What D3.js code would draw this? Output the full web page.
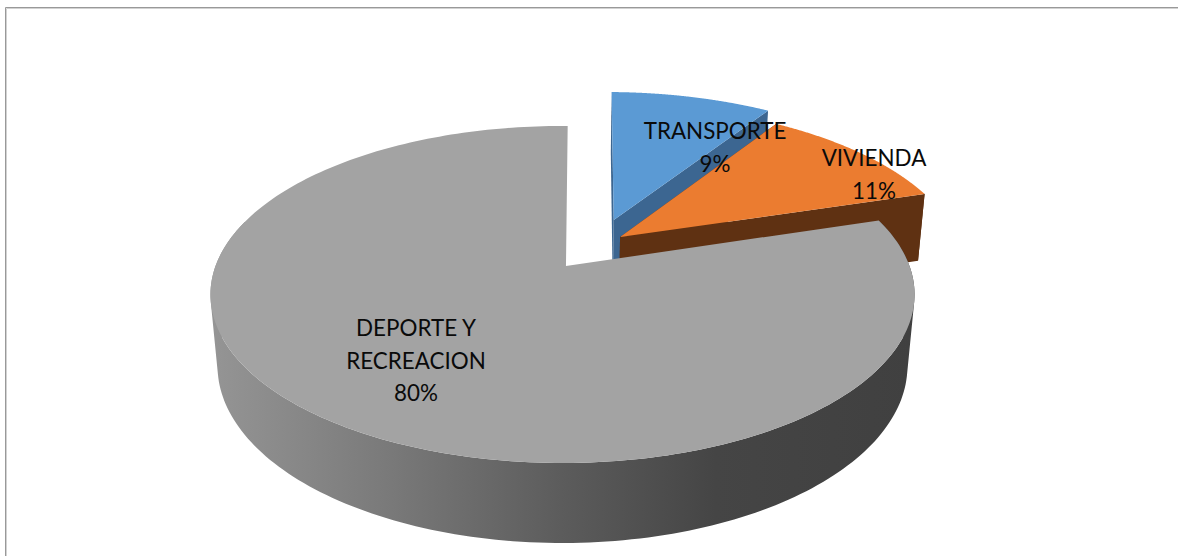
<!DOCTYPE html>
<html>
<head>
<meta charset="utf-8">
<style>
html,body{margin:0;padding:0;background:#fff;overflow:hidden}
svg{display:block}
text{font-family:Lato,"Open Sans",sans-serif;font-size:22.4px;fill:#0a0a0a;text-anchor:middle}
</style>
<script src="https://cdnjs.cloudflare.com/ajax/libs/d3/7.8.5/d3.min.js"></script>
</head>
<body>
<script>
// Data
const categories = ["TRANSPORTE", "VIVIENDA", "DEPORTE Y RECREACION"];
const values = [9, 11, 80];
const labelLines = [["TRANSPORTE"], ["VIVIENDA"], ["DEPORTE Y", "RECREACION"]];

// Styles
const topColors = ["#5b9ad4", "#eb7c30", "#a3a3a3"];
const faceColors = ["#3c6691", "#5f3112", "#6a6a6a"];

// Layout
const W = 1179, H = 556;
const apex = {x: 562.5, y: 266};
const radiusX = 347, radiusY = 163.7, tilt = 0.169, depth = 72, depthShrink = 0.02;
const rotation = 1 * Math.PI / 180;
const explode = [{u: 0.155, v: -0.2954}, {u: 0.171, v: -0.1826}, {u: 0, v: 0}];
const tipShift = [0, 0, 0.01];
const labelPos = [{x: 715, y: 131}, {x: 874, y: 158}, {x: 416, y: 328}];
const lineGap = 32.5;

const svg = d3.select("body").append("svg").attr("width", W).attr("height", H);

// Gradient for the cylinder wall
const grad = svg.append("defs").append("linearGradient")
  .attr("id", "wall").attr("gradientUnits", "userSpaceOnUse")
  .attr("x1", 210).attr("x2", 912).attr("y1", 0).attr("y2", 0);
[[0, "#959595"], [0.25, "#7a7a7a"], [0.5, "#5c5c5c"], [0.72, "#454545"], [1, "#404040"]]
  .forEach(([o, c]) => grad.append("stop").attr("offset", o).attr("stop-color", c));

// Frame
svg.append("rect").attr("width", W).attr("height", H).attr("fill", "#fff");
svg.append("path").attr("d", `M6.5,${H}V8.5H${W - 1}`).attr("fill", "none").attr("stroke", "#d2d2d2");
svg.append("path").attr("d", `M5.5,${H}V7.5H${W - 1}`).attr("fill", "none").attr("stroke", "#999");

// Disc coordinates -> screen
function project(u, v, z) {
  const w = 1 - tilt * v + depthShrink * z;
  return [apex.x + radiusX * u / w, apex.y + (radiusY * v + depth * z) / w];
}
const line = d3.line();

const arcs = d3.pie().sort(null).startAngle(rotation).endAngle(rotation + 2 * Math.PI)(values);

arcs.forEach((a, i) => {
  const e = explode[i];
  const pt = (ang, z, r = 1) => project(e.u + r * Math.sin(ang), e.v - r * Math.cos(ang), z);
  const tip = z => project(e.u + tipShift[i], e.v, z);
  const angles = d3.range(0, 241).map(k => a.startAngle + (a.endAngle - a.startAngle) * k / 240);
  const g = svg.append("g").attr("class", "slice").datum(a);

  // outer wall: consistently wound quads along the part of the rim that faces the viewer
  const front = angles.filter(t => Math.cos(t) < 0.3);
  const quads = d3.pairs(front).map(([t0, t1]) => {
    const q = [pt(t0, 0), pt(t1, 0), pt(t1, 1), pt(t0, 1)];
    return line(d3.polygonArea(q) < 0 ? q.reverse() : q) + "Z";
  }).join("");
  if (quads) g.append("path").attr("d", quads).attr("fill", i === 2 ? "url(#wall)" : faceColors[i]);

  // cut faces (only those of the exploded slices can be seen)
  if (i < 2) {
    [a.startAngle, a.endAngle].forEach(t => {
      g.append("path")
        .attr("d", line([tip(0), pt(t, 0), pt(t, 1), tip(1)]) + "Z")
        .attr("fill", faceColors[i]);
    });
  }

  // top
  g.append("path")
    .attr("d", line([tip(0), ...angles.map(t => pt(t, 0))]) + "Z")
    .attr("fill", topColors[i]);
});

// Labels
arcs.forEach((a, i) => {
  const lines = [...labelLines[i], d3.format(".0f")(values[i]) + "%"];
  const t = svg.append("text").attr("x", labelPos[i].x).attr("y", labelPos[i].y);
  lines.forEach((s, k) => {
    t.append("tspan").attr("x", labelPos[i].x).attr("y", labelPos[i].y + k * lineGap + 8).text(s);
  });
});
</script>
</body>
</html>
